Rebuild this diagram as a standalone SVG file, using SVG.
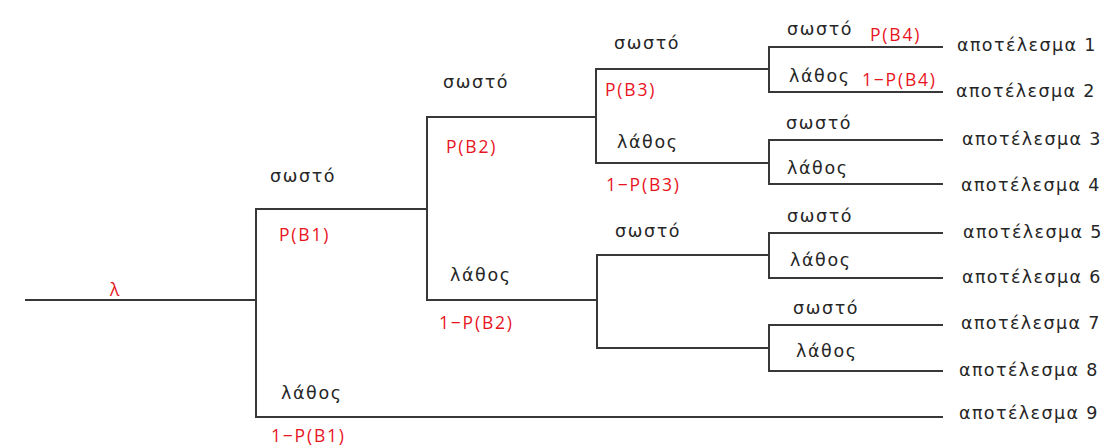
<svg xmlns="http://www.w3.org/2000/svg" width="1105" height="446" viewBox="0 0 1105 446">
  <style>
    .edge { fill: none; stroke: #383838; stroke-width: 2; stroke-linecap: square; }
    .lbl { font-family: "DejaVu Sans", "Liberation Sans", sans-serif; font-size: 17.5px; fill: #262626; letter-spacing: 1.6px; }
    .out { font-family: "DejaVu Sans", "Liberation Sans", sans-serif; font-size: 17.5px; fill: #262626; letter-spacing: 1.4px; }
    .prob { font-family: "Open Sans", "Noto Sans", sans-serif; font-size: 17.5px; fill: #e8141e; letter-spacing: 1.8px; }
  </style>
  <rect width="1105" height="446" fill="#ffffff"/>

  <!-- branches of the probability tree -->
  <g id="connectors">
    <!-- root -->
    <path class="edge" d="M26 300 H256"/>
    <path class="edge" d="M256 209 V417"/>
    <!-- level 1 -->
    <path class="edge" d="M256 209 H427"/>
    <path class="edge" d="M256 417 H942"/>
    <path class="edge" d="M427 117 V300"/>
    <!-- level 2 -->
    <path class="edge" d="M427 117 H596"/>
    <path class="edge" d="M427 300 H597"/>
    <path class="edge" d="M596 69 V163"/>
    <path class="edge" d="M597 255 V348"/>
    <!-- level 3 -->
    <path class="edge" d="M596 69 H769"/>
    <path class="edge" d="M596 163 H769"/>
    <path class="edge" d="M597 255 H769"/>
    <path class="edge" d="M597 348 H769"/>
    <path class="edge" d="M769 47 V92"/>
    <path class="edge" d="M769 140 V184"/>
    <path class="edge" d="M769 233 V278"/>
    <path class="edge" d="M769 325 V371"/>
    <!-- level 4 leaves -->
    <path class="edge" d="M769 47 H942"/>
    <path class="edge" d="M769 92 H942"/>
    <path class="edge" d="M769 140 H942"/>
    <path class="edge" d="M769 184 H942"/>
    <path class="edge" d="M769 233 H942"/>
    <path class="edge" d="M769 278 H942"/>
    <path class="edge" d="M769 325 H942"/>
    <path class="edge" d="M769 371 H942"/>
  </g>

  <g id="root">
    <text class="prob" x="110" y="296">λ</text>
  </g>

  <g id="level1">
    <text class="lbl" x="270" y="182">σωστό</text>
    <text class="prob" x="279" y="241">P(B1)</text>
    <text class="lbl" x="281" y="399">λάθος</text>
    <text class="prob" x="271" y="442">1−P(B1)</text>
  </g>

  <g id="level2">
    <text class="lbl" x="443" y="88">σωστό</text>
    <text class="prob" x="446" y="153">P(B2)</text>
    <text class="lbl" x="450" y="281">λάθος</text>
    <text class="prob" x="439" y="329">1−P(B2)</text>
  </g>

  <g id="level3">
    <text class="lbl" x="614" y="49">σωστό</text>
    <text class="prob" x="605" y="96">P(B3)</text>
    <text class="lbl" x="617" y="148">λάθος</text>
    <text class="prob" x="606" y="191">1−P(B3)</text>
    <text class="lbl" x="615" y="237">σωστό</text>
  </g>

  <g id="level4">
    <text class="lbl" x="787" y="35">σωστό</text>
    <text class="prob" x="870" y="41">P(B4)</text>
    <text class="lbl" x="789" y="82">λάθος</text>
    <text class="prob" x="862" y="86">1−P(B4)</text>
    <text class="lbl" x="786" y="129">σωστό</text>
    <text class="lbl" x="787" y="174">λάθος</text>
    <text class="lbl" x="787" y="222">σωστό</text>
    <text class="lbl" x="790" y="266">λάθος</text>
    <text class="lbl" x="793" y="314">σωστό</text>
    <text class="lbl" x="796" y="357">λάθος</text>
  </g>

  <g id="outcomes">
    <text class="out" x="957" y="51">αποτέλεσμα 1</text>
    <text class="out" x="956" y="97">αποτέλεσμα 2</text>
    <text class="out" x="962" y="145">αποτέλεσμα 3</text>
    <text class="out" x="961" y="191">αποτέλεσμα 4</text>
    <text class="out" x="963" y="238">αποτέλεσμα 5</text>
    <text class="out" x="962" y="283">αποτέλεσμα 6</text>
    <text class="out" x="961" y="329">αποτέλεσμα 7</text>
    <text class="out" x="959" y="376">αποτέλεσμα 8</text>
    <text class="out" x="959" y="419">αποτέλεσμα 9</text>
  </g>
</svg>
